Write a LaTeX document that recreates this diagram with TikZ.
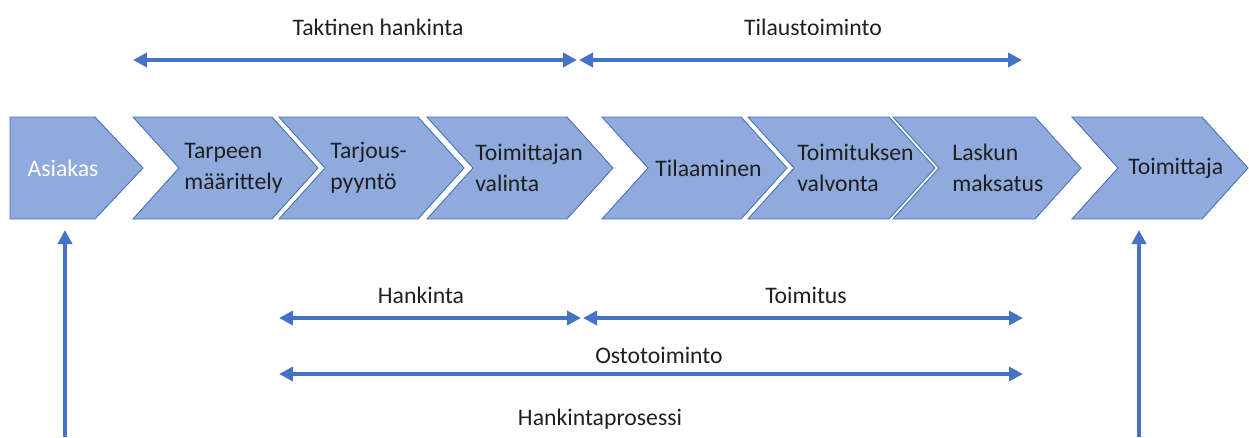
\documentclass[tikz,border=0pt]{standalone}
\usepackage{fontspec}
\setmainfont{Carlito}
\usepackage{xcolor}
\usetikzlibrary{arrows.meta}
\definecolor{chevfill}{HTML}{8FAADC}
\definecolor{chevline}{HTML}{4A70B0}
\definecolor{arrowblue}{HTML}{4472C4}
\newcommand{\chev}[2]{\draw[chevbox] (#1,117)--(#1+#2-46,117)--(#1+#2,168)--(#1+#2-46,219)--(#1,219)--(#1+46,168)--cycle;}
\tikzset{
  chevbox/.style={fill=chevfill, draw=chevline, line width=0.5pt},
  chevtext/.style={anchor=west, align=left, inner sep=0pt, text=black!88, font=\fontsize{13.5}{17.6}\selectfont},
  spanlabel/.style={anchor=base, inner sep=0pt, text=black!88, font=\fontsize{13.5}{16}\selectfont},
  spanarrow/.style={{Triangle[length=0.28cm,width=0.28cm]}-{Triangle[length=0.28cm,width=0.28cm]}, draw=arrowblue, line width=2.3pt},
  uparrow/.style={-{Triangle[length=0.28cm,width=0.28cm]}, draw=arrowblue, line width=2.3pt}
}
\begin{document}
\begin{tikzpicture}[x=0.02cm, y=-0.02cm]
\useasboundingbox (0,0) rectangle (1249,437);

\draw[chevbox] (10,117)--(95,117)--(143,168)--(95,219)--(10,219)--cycle;
\chev{133}{185}
\chev{279}{185}
\chev{427}{186}
\chev{602}{185}
\chev{748}{187}
\chev{893}{188}
\chev{1072}{176}

\node[chevtext, anchor=center, text=white] (asiakas) at (63,168) {Asiakas};
\node[chevtext] (tarpeen) at (184,168) {Tarpeen\\määrittely};
\node[chevtext] (tarjous) at (330,168) {Tarjous-\\pyyntö};
\node[chevtext] (valinta) at (475,168) {Toimittajan\\valinta};
\node[chevtext] (tilaaminen) at (655,168) {Tilaaminen};
\node[chevtext] (valvonta) at (797,168) {Toimituksen\\valvonta};
\node[chevtext] (maksatus) at (952,168) {Laskun\\maksatus};
\node[chevtext] (toimittaja) at (1128,168) {Toimittaja};

\node[spanlabel] (taktinen) at (378,35) {Taktinen hankinta};
\node[spanlabel] (tilaus) at (813,35) {Tilaustoiminto};
\node[spanlabel] (hankinta) at (421,303) {Hankinta};
\node[spanlabel] (toimitus) at (806,303) {Toimitus};
\node[spanlabel] (osto) at (659,363) {Ostotoiminto};
\node[spanlabel] (prosessi) at (600,425) {Hankintaprosessi};

\coordinate (top-l) at (133,60);
\coordinate (top-m) at (577,60);
\coordinate (top-n) at (579,60);
\coordinate (top-r) at (1022,60);
\coordinate (mid-l) at (279,318);
\coordinate (mid-m) at (581,318);
\coordinate (mid-n) at (583,318);
\coordinate (mid-r) at (1023,318);
\coordinate (low-l) at (279,374);
\coordinate (low-r) at (1023,374);
\coordinate (as-foot) at (65,437);
\coordinate (as-head) at (65,230);
\coordinate (to-foot) at (1139,437);
\coordinate (to-head) at (1139,230);

\draw[spanarrow] (top-l) -- (top-m);
\draw[spanarrow] (top-n) -- (top-r);
\draw[spanarrow] (mid-l) -- (mid-m);
\draw[spanarrow] (mid-n) -- (mid-r);
\draw[spanarrow] (low-l) -- (low-r);
\draw[uparrow] (as-foot) -- (as-head);
\draw[uparrow] (to-foot) -- (to-head);

\end{tikzpicture}
\end{document}
